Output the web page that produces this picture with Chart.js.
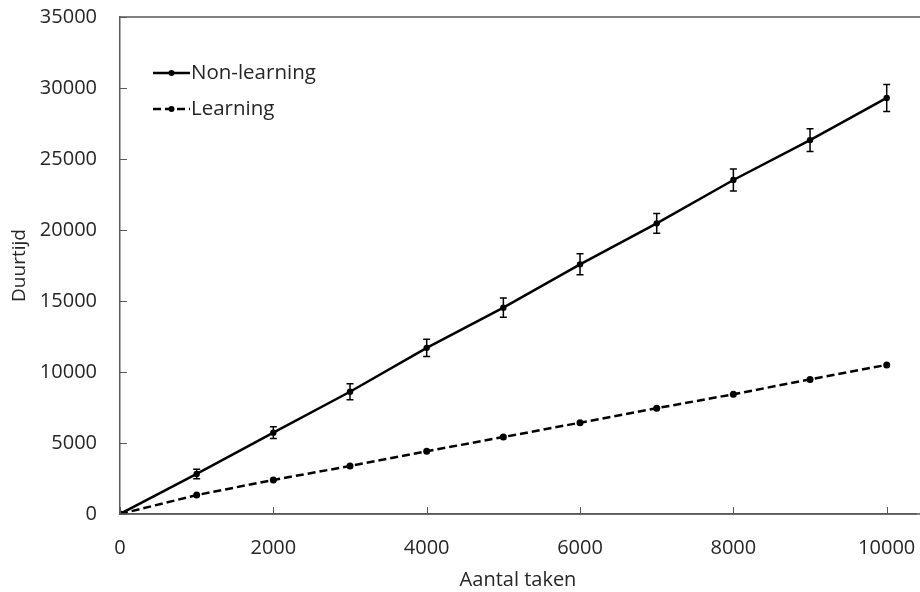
<!DOCTYPE html>
<html>
<head>
<meta charset="utf-8">
<script src="https://cdn.jsdelivr.net/npm/chart.js@4.4.1/dist/chart.umd.min.js"></script>
<style>
  html, body { margin: 0; padding: 0; background: #ffffff; overflow: hidden; }
  #wrap { width: 920px; height: 592px; position: relative; }
</style>
</head>
<body>
<div id="wrap"><canvas id="chart" width="920" height="592"></canvas></div>
<script>
// Number of tasks on the horizontal axis
const taskCounts = [0, 1000, 2000, 3000, 4000, 5000, 6000, 7000, 8000, 9000, 10000];
// Mean duration without learning, with its spread
const nonLearning = [0, 2820, 5730, 8610, 11700, 14530, 17580, 20470, 23520, 26330, 29300];
const nonLearningErr = [0, 330, 420, 570, 610, 680, 740, 700, 780, 800, 950];
// Mean duration with learning
const learning = [0, 1330, 2400, 3380, 4420, 5420, 6430, 7450, 8430, 9480, 10500];
// Axis ticks
const xTickValues = [0, 2000, 4000, 6000, 8000, 10000];
const yTickValues = [0, 5000, 10000, 15000, 20000, 25000, 30000, 35000];

const FONT = '"Open Sans", "DejaVu Sans", sans-serif';
const TEXT = '#262626';
const AXIS = '#595959';

const pairs = (xs, ys) => xs.map((x, i) => ({ x: x, y: ys[i] }));

// Vertical error bars with caps, placed through the chart's scales
const errorBars = {
  id: 'errorBars',
  afterDatasetsDraw(chart) {
    const { ctx, scales: { x, y } } = chart;
    chart.data.datasets.forEach((ds) => {
      if (!ds.errors) return;
      ctx.save();
      ctx.strokeStyle = '#000000';
      ctx.lineWidth = 1.5;
      ds.data.forEach((p, i) => {
        const e = ds.errors[i];
        if (!e) return;
        const px = x.getPixelForValue(p.x);
        const top = y.getPixelForValue(p.y + e);
        const bot = y.getPixelForValue(p.y - e);
        ctx.beginPath();
        ctx.moveTo(px, top); ctx.lineTo(px, bot);
        ctx.moveTo(px - 3.5, top); ctx.lineTo(px + 3.5, top);
        ctx.moveTo(px - 3.5, bot); ctx.lineTo(px + 3.5, bot);
        ctx.stroke();
      });
      ctx.restore();
    });
  }
};

// Top frame line and inward tick marks
const frame = {
  id: 'frame',
  afterDraw(chart) {
    const { ctx, chartArea: a, scales: { x, y } } = chart;
    ctx.save();
    ctx.strokeStyle = AXIS;
    ctx.lineWidth = 1.5;
    ctx.beginPath();
    ctx.moveTo(a.left, a.top); ctx.lineTo(chart.width, a.top);
    ctx.moveTo(a.left, a.bottom); ctx.lineTo(chart.width, a.bottom);
    ctx.stroke();
    ctx.lineWidth = 1;
    ctx.beginPath();
    yTickValues.forEach(v => {
      const py = Math.round(y.getPixelForValue(v)) + 0.5;
      ctx.moveTo(a.left, py); ctx.lineTo(a.left + 7, py);
    });
    xTickValues.forEach(v => {
      const px = Math.round(x.getPixelForValue(v)) + 0.5;
      ctx.moveTo(px, a.bottom); ctx.lineTo(px, a.bottom - 7);
    });
    ctx.stroke();
    ctx.restore();
  }
};

// Legend inside the plot: line sample with marker, then the series name
const innerLegend = {
  id: 'innerLegend',
  afterDraw(chart) {
    const { ctx } = chart;
    const x0 = 153, x1 = 190, rowY = [73, 109];
    ctx.save();
    chart.data.datasets.forEach((ds, i) => {
      const yy = rowY[i];
      ctx.strokeStyle = ds.borderColor;
      ctx.lineWidth = ds.borderWidth;
      ctx.setLineDash(ds.borderDash || []);
      ctx.beginPath();
      ctx.moveTo(x0, yy); ctx.lineTo(x1, yy);
      ctx.stroke();
      ctx.setLineDash([]);
      ctx.fillStyle = '#000000';
      ctx.beginPath();
      ctx.arc((x0 + x1) / 2, yy, 3, 0, Math.PI * 2);
      ctx.fill();
      ctx.fillStyle = TEXT;
      ctx.font = '20.5px ' + FONT;
      ctx.textAlign = 'left';
      ctx.textBaseline = 'middle';
      ctx.fillText(ds.label, x1 + 1, yy);
    });
    ctx.restore();
  }
};

new Chart(document.getElementById('chart'), {
  type: 'scatter',
  data: {
    datasets: [
      {
        label: 'Non-learning',
        data: pairs(taskCounts, nonLearning),
        errors: nonLearningErr,
        showLine: true,
        borderColor: '#000000',
        borderWidth: 2.5,
        pointRadius: 3.2,
        pointBackgroundColor: '#000000',
        pointBorderWidth: 0
      },
      {
        label: 'Learning',
        data: pairs(taskCounts, learning),
        showLine: true,
        borderColor: '#000000',
        borderWidth: 2.5,
        borderDash: [8, 4],
        pointRadius: 3.5,
        pointBackgroundColor: '#000000',
        pointBorderWidth: 0
      }
    ]
  },
  options: {
    responsive: false,
    animation: false,
    layout: { padding: { top: 17, right: 0, left: 0, bottom: 0 } },
    plugins: {
      legend: { display: false },
      tooltip: { enabled: false }
    },
    scales: {
      x: {
        type: 'linear',
        min: 0,
        max: 10382,
        afterBuildTicks: s => { s.ticks = xTickValues.map(v => ({ value: v })); },
        afterFit: s => { s.height = 78; s.paddingLeft = 0; s.paddingRight = 0; },
        grid: { display: false, drawTicks: false },
        border: { display: true, color: AXIS, width: 1.5 },
        ticks: {
          padding: 22,
          color: TEXT,
          font: { family: FONT, size: 20 },
          maxRotation: 0,
          callback: v => String(v)
        },
        title: {
          display: true,
          text: 'Aantal taken',
          color: TEXT,
          font: { family: FONT, size: 20 },
          padding: { top: 0, bottom: 0 }
        }
      },
      y: {
        type: 'linear',
        min: 0,
        max: 35000,
        afterBuildTicks: s => { s.ticks = yTickValues.map(v => ({ value: v })); },
        afterFit: s => { s.width = 120; s.paddingTop = 0; s.paddingBottom = 0; },
        grid: { display: false, drawTicks: false },
        border: { display: true, color: AXIS, width: 1.5 },
        ticks: {
          padding: 23,
          color: TEXT,
          font: { family: FONT, size: 20 },
          callback: v => String(v)
        },
        title: {
          display: true,
          text: 'Duurtijd',
          color: TEXT,
          font: { family: FONT, size: 19 },
          padding: { top: 8, bottom: 0 }
        }
      }
    }
  },
  plugins: [errorBars, frame, innerLegend]
});
</script>
</body>
</html>
